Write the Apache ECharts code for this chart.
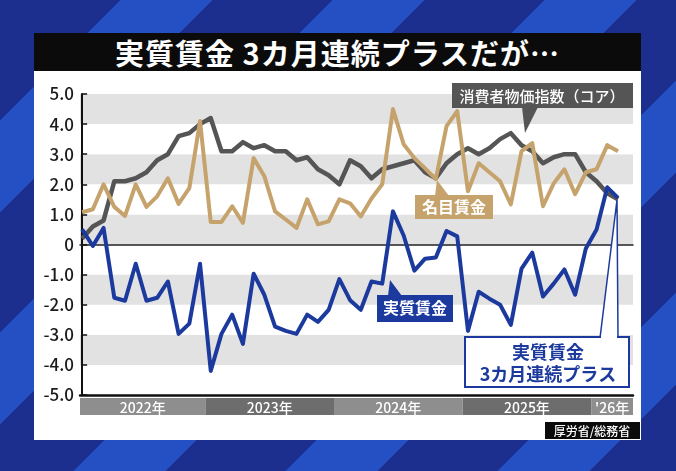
<!DOCTYPE html>
<html>
<head>
<meta charset="utf-8">
<script src="https://cdn.jsdelivr.net/npm/echarts@6/dist/echarts.min.js"></script>
<style>
  html, body { margin:0; padding:0; width:676px; height:471px; overflow:hidden; }
  body {
    background: repeating-linear-gradient(135deg, #1c2f8f 0px, #1c2f8f 85px, #2450c4 85px, #2450c4 150px);
    position: relative;
    font-family: "Noto Sans CJK JP", sans-serif;
  }
  #panel { position:absolute; left:34px; top:71px; width:607px; height:369px; background:#fff; }
  #titlebar { position:absolute; left:34px; top:33px; width:607px; height:38px; background:#0b0b0b;
    color:#fff; font-weight:700; font-size:29px; line-height:38px; text-align:center; letter-spacing:1px; }
  #chart { position:absolute; left:0; top:0; width:676px; height:471px; }
</style>
</head>
<body>
<div id="panel"></div>
<div id="titlebar">実質賃金 3カ月連続プラスだが…</div>
<div id="chart"></div>
<script type="text/javascript">
// 2022年1月〜2026年3月 (前年同月比 %)
var cpi = [0.2, 0.6, 0.8, 2.1, 2.1, 2.2, 2.4, 2.8, 3.0, 3.6, 3.7, 4.0,
           4.2, 3.1, 3.1, 3.4, 3.2, 3.3, 3.1, 3.1, 2.8, 2.9, 2.5, 2.3,
           2.0, 2.8, 2.6, 2.2, 2.5, 2.6, 2.7, 2.8, 2.4, 2.2, 2.7, 3.0,
           3.2, 3.0, 3.2, 3.5, 3.7, 3.3, 3.1, 2.7, 2.9, 3.0, 3.0, 2.4,
           2.1, 1.7, 1.5];
var nominal = [1.07, 1.17, 2.0, 1.25, 0.95, 2.0, 1.25, 1.6, 2.2, 1.35, 1.87, 4.1,
               0.75, 0.75, 1.27, 0.72, 2.87, 2.27, 1.1, 0.83, 0.55, 1.5, 0.67, 0.77,
               1.5, 1.37, 0.93, 1.53, 2.0, 4.5, 3.33, 2.87, 2.53, 2.17, 3.93, 4.43,
               1.77, 2.7, 2.4, 2.1, 1.33, 3.1, 3.37, 1.27, 2.03, 2.5, 1.67, 2.4,
               2.5, 3.3, 3.1];
var real = [0.5, -0.05, 0.55, -1.77, -1.87, -0.64, -1.87, -1.77, -1.23, -2.97, -2.63, -0.64,
            -4.2, -2.97, -2.33, -3.3, -0.97, -1.67, -2.73, -2.87, -2.97, -2.33, -2.57, -2.17,
            -1.15, -1.85, -2.17, -1.23, -1.3, 1.1, 0.3, -0.87, -0.47, -0.43, 0.45, 0.27,
            -2.87, -1.57, -1.8, -2.0, -2.67, -0.8, -0.27, -1.73, -1.3, -0.83, -1.67, -0.13,
            0.5, 1.9, 1.55];
var yearLabels = ['2022年', '2023年', '2024年', '2025年', '\'26年'];
var yearStarts = [0, 12, 24, 36, 48];  // 各年の最初の月の番号

var xMin = -0.2, xMax = 51.4;
var FONT = '"Noto Sans CJK JP", sans-serif';

function toPairs(arr) {
  var out = [];
  for (var i = 0; i < arr.length; i++) out.push([i, arr[i]]);
  return out;
}
var yearBands = [];
for (var i = 0; i < yearStarts.length; i++) {
  var s = Math.max(yearStarts[i] - 0.5, xMin);
  var e = i + 1 < yearStarts.length ? yearStarts[i + 1] - 0.5 : xMax;
  yearBands.push([s, e]);
}
var bandColors = ['#8e8e8e', '#6d6d6d'];

var myChart = echarts.init(document.getElementById('chart'), null, {renderer: 'canvas'});
var option = {
  backgroundColor: 'transparent',
  animation: false,
  grid: [
    {left: 80, right: 43, top: 94, bottom: 76},
    {left: 80, right: 43, top: 398, height: 17}
  ],
  xAxis: [
    {type: 'value', gridIndex: 0, min: xMin, max: xMax,
     axisLine: {onZero: false, lineStyle: {color: '#111', width: 2.5}},
     axisTick: {show: false}, axisLabel: {show: false}, splitLine: {show: false}},
    {type: 'value', gridIndex: 0, min: xMin, max: xMax, position: 'bottom',
     axisLine: {onZero: true, lineStyle: {color: '#222', width: 1.5}},
     axisTick: {show: false}, axisLabel: {show: false}, splitLine: {show: false}},
    {type: 'value', gridIndex: 1, min: xMin, max: xMax, show: false}
  ],
  yAxis: [
    {type: 'value', gridIndex: 0, min: -5, max: 5, interval: 1,
     axisLine: {show: true, lineStyle: {color: '#111', width: 2}},
     axisTick: {show: true, inside: true, length: 5, lineStyle: {color: '#111', width: 1.5}},
     axisLabel: {color: '#1a1a1a', fontSize: 17, fontFamily: FONT, fontWeight: 500, margin: 6,
                 formatter: function (v) { return v === 0 ? '0' : v.toFixed(1); }},
     splitLine: {show: false},
     splitArea: {show: true, areaStyle: {color: ['#ffffff', '#e2e2e2']}}},
    {type: 'value', gridIndex: 1, min: 0, max: 1, show: false}
  ],
  series: [
    {name: '消費者物価指数（コア）', type: 'line', xAxisIndex: 0, yAxisIndex: 0,
     data: toPairs(cpi), symbol: 'none',
     lineStyle: {color: '#555555', width: 4.5, join: 'round'}},
    {name: '名目賃金', type: 'line', xAxisIndex: 0, yAxisIndex: 0,
     data: toPairs(nominal), symbol: 'none',
     lineStyle: {color: '#c6a36c', width: 4, join: 'round'}},
    {name: '実質賃金', type: 'line', xAxisIndex: 0, yAxisIndex: 0,
     data: toPairs(real), symbol: 'none',
     lineStyle: {color: '#1c3a9e', width: 4, join: 'round'}},
    {type: 'custom', xAxisIndex: 2, yAxisIndex: 1, data: yearBands, silent: true,
     renderItem: function (params, api) {
       var p0 = api.coord([api.value(0), 1]);
       var p1 = api.coord([api.value(1), 0]);
       return {
         type: 'group',
         children: [
           {type: 'rect', shape: {x: p0[0], y: p0[1], width: p1[0] - p0[0], height: p1[1] - p0[1]},
            style: {fill: bandColors[params.dataIndex % 2]}},
           {type: 'text', style: {text: yearLabels[params.dataIndex],
            x: (p0[0] + p1[0]) / 2, y: (p0[1] + p1[1]) / 2 + 1,
            align: 'center', verticalAlign: 'middle', fill: '#ffffff',
            font: '500 14px ' + FONT}}
         ]
       };
     }}
  ],
  graphic: [
    // 消費者物価指数（コア）
    {type: 'rect', shape: {x: 452, y: 83, width: 181, height: 25}, style: {fill: '#555555'}, z: 10},
    {type: 'polygon', shape: {points: [[522, 107], [538, 107], [525, 133]]}, style: {fill: '#555555'}, z: 10},
    {type: 'text', style: {text: '消費者物価指数（コア）', x: 542, y: 96, align: 'center', verticalAlign: 'middle',
      fill: '#ffffff', font: '500 15px ' + FONT}, z: 11},
    // 名目賃金
    {type: 'rect', shape: {x: 415, y: 195, width: 78, height: 24}, style: {fill: '#c6a36c'}, z: 10},
    {type: 'polygon', shape: {points: [[435, 196], [449, 196], [437, 180]]}, style: {fill: '#c6a36c'}, z: 10},
    {type: 'text', style: {text: '名目賃金', x: 454, y: 207, align: 'center', verticalAlign: 'middle',
      fill: '#ffffff', font: '700 16px ' + FONT}, z: 11},
    // 実質賃金
    {type: 'rect', shape: {x: 377, y: 295, width: 76, height: 27}, style: {fill: '#1c3a9e'}, z: 10},
    {type: 'polygon', shape: {points: [[388, 296], [402, 296], [390, 280]]}, style: {fill: '#1c3a9e'}, z: 10},
    {type: 'text', style: {text: '実質賃金', x: 415, y: 308, align: 'center', verticalAlign: 'middle',
      fill: '#ffffff', font: '700 16px ' + FONT}, z: 11},
    // 実質賃金 3カ月連続プラス
    {type: 'polygon', shape: {points: [[600, 338], [617, 200], [618, 338]]},
      style: {fill: '#ffffff', stroke: '#1c3a9e', lineWidth: 1.5}, z: 10},
    {type: 'rect', shape: {x: 465, y: 337, width: 164, height: 50},
      style: {fill: '#ffffff', stroke: '#1c3a9e', lineWidth: 2}, z: 10},
    {type: 'rect', shape: {x: 601, y: 335, width: 16, height: 4}, style: {fill: '#ffffff'}, z: 11},
    {type: 'text', style: {text: '実質賃金', x: 548, y: 352, align: 'center', verticalAlign: 'middle',
      fill: '#1c3a9e', font: '700 18px ' + FONT}, z: 11},
    {type: 'text', style: {text: '3カ月連続プラス', x: 548, y: 374, align: 'center', verticalAlign: 'middle',
      fill: '#1c3a9e', font: '700 18px ' + FONT}, z: 11},
    // 出典
    {type: 'rect', shape: {x: 545, y: 422, width: 95, height: 17}, style: {fill: '#0b0b0b'}, z: 10},
    {type: 'text', style: {text: '厚労省/総務省', x: 592, y: 431, align: 'center', verticalAlign: 'middle',
      fill: '#ffffff', font: '500 12px ' + FONT}, z: 11}
  ]
};
myChart.setOption(option);
</script>
</body>
</html>
